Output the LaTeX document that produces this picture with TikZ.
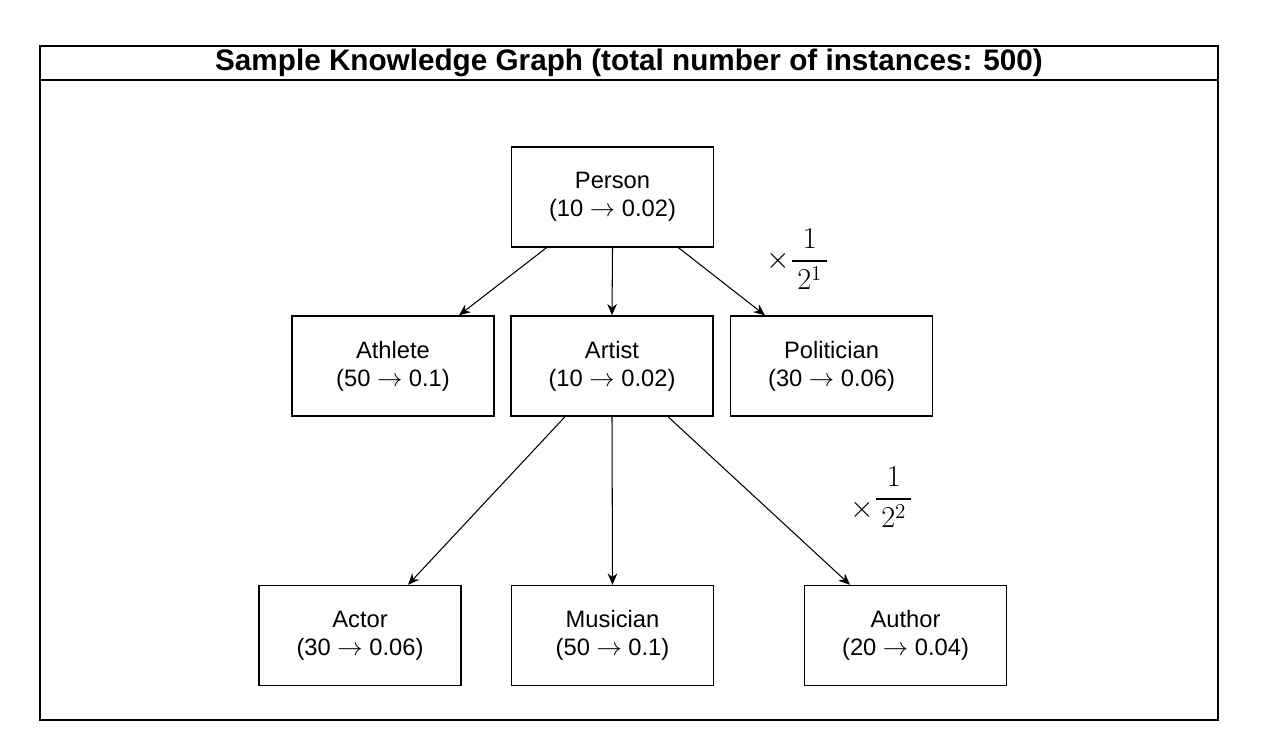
\documentclass[tikz,border=0pt]{standalone}
\usepackage{amsmath}
\usepackage{fontspec}
\setmainfont{Liberation Sans}
\usetikzlibrary{arrows.meta}

\newcommand{\maps}{ $\rightarrow$ }

\begin{document}
\begin{tikzpicture}[>={Stealth[length=6.5pt,width=5.5pt]}, x=0.02cm, y=-0.02cm,
    class/.style={draw, line width=0.8pt, minimum width=4.04cm, minimum height=2cm,
        align=center, font=\fontsize{13.5}{15.8}\selectfont, inner sep=0pt},
    link/.style={->, line width=0.6pt},
    factor/.style={font=\fontsize{18}{21}\selectfont, inner sep=0pt}]

    % ── Page and frame (pixel grid of the reference) ─────────────────────────
    \useasboundingbox (0,0) rectangle (1263,755);
    \draw[line width=0.8pt] (40,46) rectangle (1218,720);
    \draw[line width=0.8pt] (40,80) -- (1218,80);
    \node[font=\fontsize{16.9}{19}\selectfont\bfseries] (title) at (629,63)
        {Sample Knowledge Graph (total number of instances: 500)};

    % ── Classes ───────────────────────────────────────────────────────────────
    \node[class] (person)     at (612.5,197) {Person\\(10\maps 0.02)};

    \node[class] (athlete)    at (393,366)   {Athlete\\(50\maps 0.1)};
    \node[class] (artist)     at (612,366)   {Artist\\(10\maps 0.02)};
    \node[class] (politician) at (831.5,366) {Politician\\(30\maps 0.06)};

    \node[class] (actor)      at (360,635.5)   {Actor\\(30\maps 0.06)};
    \node[class] (musician)   at (612.5,635.5) {Musician\\(50\maps 0.1)};
    \node[class] (author)     at (905.5,635.5) {Author\\(20\maps 0.04)};

    % ── Subclass links ────────────────────────────────────────────────────────
    \draw[link] ([xshift=-1.32cm]person.south) -- ([xshift=1.32cm]athlete.north);
    \draw[link] (person.south) -- (artist.north);
    \draw[link] ([xshift=1.32cm]person.south) -- ([xshift=-1.33cm]politician.north);

    \draw[link] ([xshift=-0.94cm]artist.south) -- ([xshift=0.96cm]actor.north);
    \draw[link] (artist.south) -- (musician.north);
    \draw[link] ([xshift=1.12cm]artist.south) -- ([xshift=-1.11cm]author.north);

    % ── Decay factors ─────────────────────────────────────────────────────────
    \node[factor] (factorA) at (798,259)
        {$\times\dfrac{\,1\,}{\,2^1\,}$};
    \node[factor] (factorB) at (882,497)
        {$\raisebox{-6pt}{$\times$}\dfrac{\,1\,}{\,2^2\,}$};

\end{tikzpicture}
\end{document}
